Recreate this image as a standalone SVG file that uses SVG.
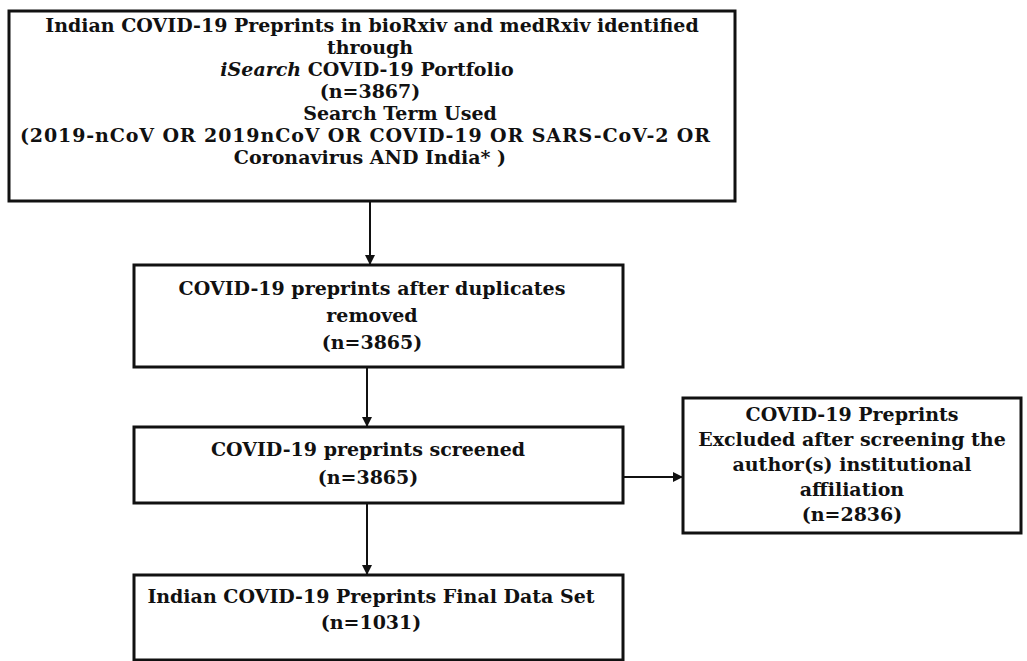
<svg xmlns="http://www.w3.org/2000/svg" width="1027" height="661" viewBox="0 0 1027 661">
<defs>
<style>
.box{fill:#fff;stroke:#111;stroke-width:3}
.t{font-family:"DejaVu Serif","Liberation Serif",serif;font-weight:bold;font-size:19px;fill:#111;text-anchor:middle}
.c{stroke:#111;stroke-width:2;fill:none}
</style>
<marker id="ah" markerWidth="10" markerHeight="10" refX="9" refY="5" orient="auto" markerUnits="userSpaceOnUse">
<path d="M0,0 L10,5 L0,10 Z" fill="#111"/>
</marker>
</defs>
<rect width="1027" height="661" fill="#fff"/>
<g id="n1">
<rect class="box" x="9" y="11" width="726" height="190"/>
<text class="t" x="372" y="32">Indian COVID-19 Preprints in bioRxiv and medRxiv identified</text>
<text class="t" x="370" y="54">through</text>
<text class="t" x="367" y="76"><tspan font-style="italic">iSearch</tspan> COVID-19 Portfolio</text>
<text class="t" x="370" y="98">(n=3867)</text>
<text class="t" x="400" y="120">Search Term Used</text>
<text class="t" x="365" y="142" textLength="690" lengthAdjust="spacing">(2019-nCoV OR 2019nCoV OR COVID-19 OR SARS-CoV-2 OR</text>
<text class="t" x="370" y="164">Coronavirus AND India* )</text>
</g>
<g id="n2">
<rect class="box" x="134" y="265" width="489" height="102"/>
<text class="t" x="372" y="295">COVID-19 preprints after duplicates</text>
<text class="t" x="372" y="322">removed</text>
<text class="t" x="372" y="349">(n=3865)</text>
</g>
<g id="n3">
<rect class="box" x="134" y="427" width="489" height="76"/>
<text class="t" x="368" y="456">COVID-19 preprints screened</text>
<text class="t" x="368" y="484">(n=3865)</text>
</g>
<g id="n4">
<rect class="box" x="134" y="575" width="489" height="85"/>
<text class="t" x="371" y="603">Indian COVID-19 Preprints Final Data Set</text>
<text class="t" x="371" y="629">(n=1031)</text>
</g>
<g id="n5">
<rect class="box" x="683" y="398" width="338" height="135"/>
<text class="t" x="852" y="421">COVID-19 Preprints</text>
<text class="t" x="852" y="446">Excluded after screening the</text>
<text class="t" x="852" y="471">author(s) institutional</text>
<text class="t" x="852" y="496">affiliation</text>
<text class="t" x="852" y="521">(n=2836)</text>
</g>
<g id="connectors">
<line class="c" x1="370" y1="202" x2="370" y2="264" marker-end="url(#ah)"/>
<line class="c" x1="367" y1="368" x2="367" y2="426" marker-end="url(#ah)"/>
<line class="c" x1="367" y1="504" x2="367" y2="574" marker-end="url(#ah)"/>
<line class="c" x1="624" y1="477" x2="682" y2="477" marker-end="url(#ah)"/>
</g>
</svg>
